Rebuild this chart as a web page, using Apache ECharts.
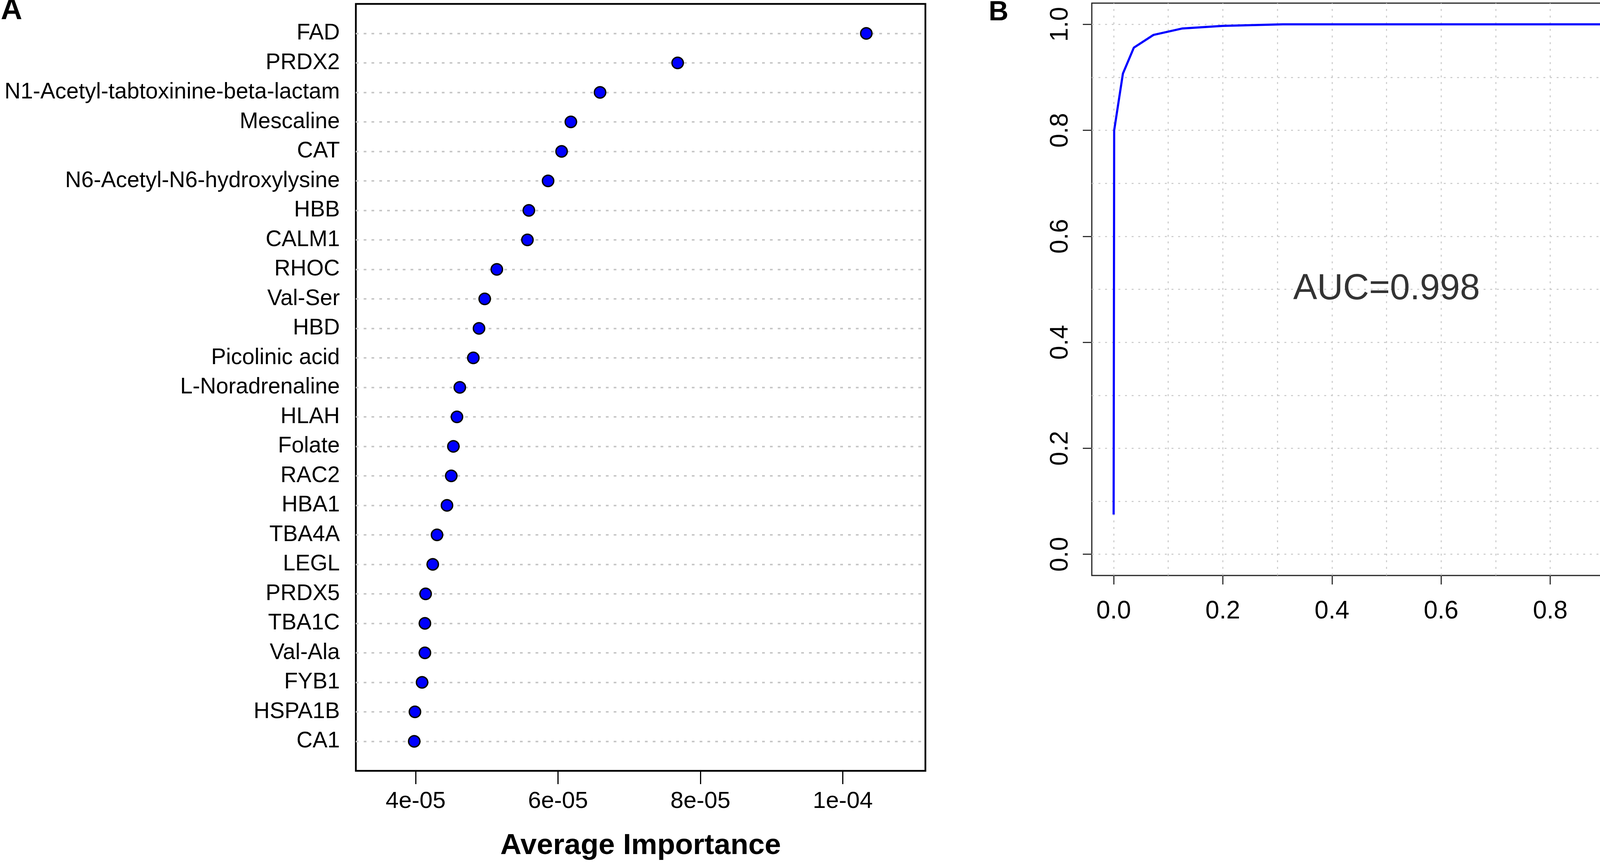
<!DOCTYPE html>
<html>
<head>
<meta charset="utf-8">
<script src="https://cdn.jsdelivr.net/npm/echarts@6/dist/echarts.min.js"></script>
<style>
  html, body { margin: 0; padding: 0; background: #fff; }
  #chart { width: 4317px; height: 2214px; }
</style>
</head>
<body>
<div id="chart"></div>
<script>
// panel A: dotchart, top row first
const features = [
    'FAD', 'PRDX2', 'N1-Acetyl-tabtoxinine-beta-lactam', 'Mescaline', 'CAT',
    'N6-Acetyl-N6-hydroxylysine', 'HBB', 'CALM1', 'RHOC', 'Val-Ser', 'HBD',
    'Picolinic acid', 'L-Noradrenaline', 'HLAH', 'Folate', 'RAC2', 'HBA1',
    'TBA4A', 'LEGL', 'PRDX5', 'TBA1C', 'Val-Ala', 'FYB1', 'HSPA1B', 'CA1'
];
const importance = [
    10.33e-5, 7.68e-5, 6.59e-5, 6.18e-5, 6.05e-5,
    5.86e-5, 5.59e-5, 5.57e-5, 5.14e-5, 4.97e-5, 4.89e-5,
    4.81e-5, 4.62e-5, 4.58e-5, 4.53e-5, 4.50e-5, 4.44e-5,
    4.30e-5, 4.24e-5, 4.14e-5, 4.13e-5, 4.13e-5, 4.09e-5, 3.99e-5, 3.98e-5
];
const impTickValues = [4e-5, 6e-5, 8e-5, 1e-4];
const impTickLabels = ['4e-05', '6e-05', '8e-05', '1e-04'];

// panel B: ROC curve
const rocFpr = [0, 0.001, 0.017, 0.037, 0.073, 0.125, 0.20, 0.31, 1.0];
const rocTpr = [0.075, 0.80, 0.907, 0.956, 0.980, 0.992, 0.997, 1.0, 1.0];
const rocTicks = [0, 0.2, 0.4, 0.6, 0.8, 1.0];
const rocGrid = [0, 0.1, 0.2, 0.3, 0.4, 0.5, 0.6, 0.7, 0.8, 0.9, 1.0];
const aucText = 'AUC=0.998';

const FONT = '"Liberation Sans", Arial, Helvetica, sans-serif';
const n = features.length;

/** feature label for a row position (1 = bottom row) */
const rowLabel = (v) => {
    const i = n - Math.round(v);
    return (i >= 0 && i < n) ? features[i] : '';
};

/** tick label lookup for importance axis */
const impLabel = (v) => {
    for (let i = 0; i < impTickValues.length; i++) {
        if (Math.abs(impTickValues[i] - v) < 1e-9) return impTickLabels[i];
    }
    return '';
};

const rowPos = features.map((f, i) => n - i);
const dotData = importance.map((v, i) => [v, rowPos[i]]);
const rocData = rocFpr.map((x, i) => [x, rocTpr[i]]);

const chart = echarts.init(document.getElementById('chart'), null, { renderer: 'canvas' });

const options = {
    animation: false,
    backgroundColor: '#fff',
    textStyle: { fontFamily: FONT },
    graphic: [
        { type: 'text', left: 2, top: -10, style: { text: 'A', font: 'bold 76px ' + FONT, fill: '#000' } },
        { type: 'text', left: 2531, top: -2, style: { text: 'B', font: 'bold 70px ' + FONT, fill: '#000' } }
    ],
    grid: [
        { left: 911, top: 10, width: 1458, height: 1963, show: true, borderColor: '#000', borderWidth: 4.5, backgroundColor: 'transparent' },
        { left: 2795, top: 8, width: 1509, height: 1465, show: true, borderColor: '#222', borderWidth: 3, backgroundColor: 'transparent' }
    ],
    xAxis: [
        {
            gridIndex: 0,
            type: 'value',
            min: 3.16e-5,
            max: 1.116e-4,
            axisLine: { show: false, onZero: false },
            splitLine: { show: false },
            axisTick: {
                show: true,
                customValues: impTickValues,
                length: 34,
                lineStyle: { color: '#000', width: 3 }
            },
            axisLabel: {
                customValues: impTickValues,
                formatter: impLabel,
                fontSize: 60,
                color: '#000',
                margin: 48,
                fontFamily: FONT
            },
            name: 'Average Importance',
            nameLocation: 'middle',
            nameGap: 155,
            nameTextStyle: { fontSize: 75, fontWeight: 'bold', color: '#000', fontFamily: FONT }
        },
        {
            gridIndex: 1,
            type: 'value',
            min: -0.04,
            max: 1.04,
            axisLine: { show: false, onZero: false },
            splitLine: { show: false },
            axisTick: {
                show: true,
                customValues: rocTicks,
                length: 23,
                lineStyle: { color: '#333', width: 3 }
            },
            axisLabel: {
                customValues: rocTicks,
                formatter: (v) => v.toFixed(1),
                fontSize: 64,
                color: '#000',
                margin: 60,
                fontFamily: FONT
            }
        }
    ],
    yAxis: [
        {
            gridIndex: 0,
            type: 'value',
            min: 0,
            max: n + 1,
            interval: 1,
            axisLine: { show: false, onZero: false },
            axisTick: { show: false },
            splitLine: { show: false },
            axisLabel: {
                formatter: rowLabel,
                fontSize: 57,
                color: '#000',
                margin: 41,
                fontFamily: FONT
            }
        },
        {
            gridIndex: 1,
            type: 'value',
            min: -0.04,
            max: 1.04,
            axisLine: { show: false, onZero: false },
            splitLine: { show: false },
            axisTick: {
                show: true,
                customValues: rocTicks,
                length: 23,
                lineStyle: { color: '#333', width: 3 }
            },
            axisLabel: {
                customValues: rocTicks,
                formatter: (v) => v.toFixed(1),
                rotate: 90,
                fontSize: 64,
                color: '#000',
                margin: 48,
                fontFamily: FONT
            }
        }
    ],
    series: [
        {
            type: 'scatter',
            xAxisIndex: 0,
            yAxisIndex: 0,
            data: dotData,
            symbol: 'circle',
            symbolSize: 29,
            itemStyle: { color: '#0000ff', borderColor: '#000', borderWidth: 3.5, opacity: 1 },
            markLine: {
                silent: true,
                z: 1,
                symbol: ['none', 'none'],
                label: { show: false },
                lineStyle: { color: '#c8c8c8', width: 4, type: [7, 13] },
                data: rowPos.map((v) => ({ yAxis: v }))
            },
            z: 3
        },
        {
            // grid lines and AUC note for the ROC panel
            type: 'scatter',
            xAxisIndex: 1,
            yAxisIndex: 1,
            data: [[0.5, 0.5]],
            symbolSize: 1,
            itemStyle: { color: 'transparent' },
            label: {
                show: true,
                position: 'inside',
                formatter: aucText,
                fontSize: 92,
                color: '#000',
                fontFamily: FONT
            },
            markLine: {
                silent: true,
                z: 1,
                symbol: ['none', 'none'],
                label: { show: false },
                lineStyle: { color: '#c8c8c8', width: 2.5, type: [5, 12] },
                data: rocGrid.map((v) => ({ xAxis: v })).concat(rocGrid.map((v) => ({ yAxis: v })))
            },
            z: 1
        },
        {
            type: 'line',
            xAxisIndex: 1,
            yAxisIndex: 1,
            data: rocData,
            symbol: 'none',
            lineStyle: { color: '#0000ff', width: 5.5 },
            z: 3
        }
    ]
};

chart.setOption(options);
</script>
</body>
</html>
